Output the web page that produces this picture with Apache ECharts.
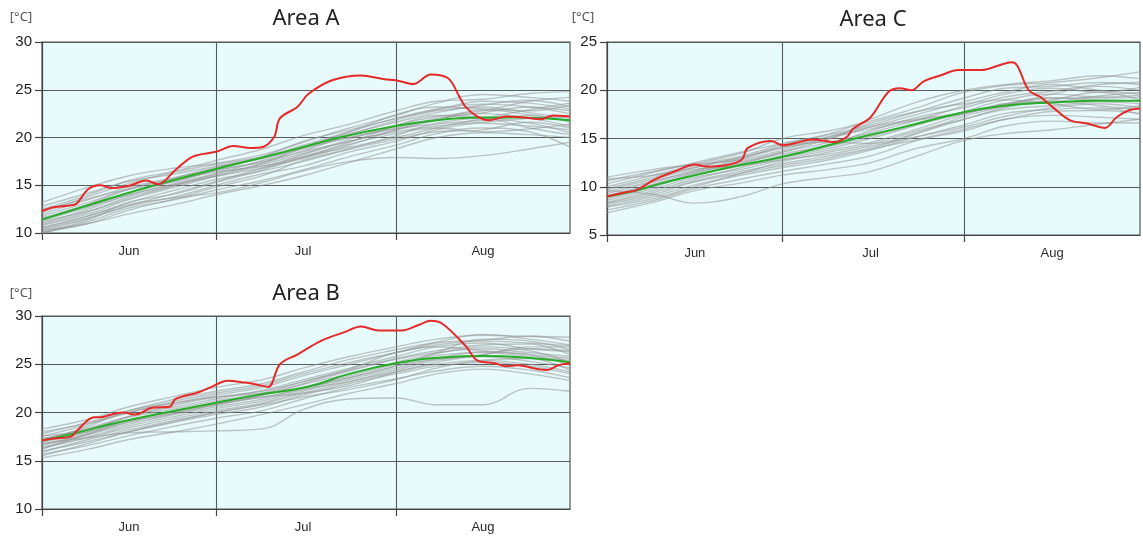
<!DOCTYPE html>
<html>
<head>
<meta charset="utf-8">
<script src="https://cdn.jsdelivr.net/npm/echarts@6/dist/echarts.min.js"></script>
<style>
html,body{margin:0;padding:0;background:#fff;}
#c{width:1143px;height:542px;}
</style>
</head>
<body>
<div id="c"></div>
<script>
// ---------- DATA ----------
const monthNames = ['Jun', 'Jul', 'Aug'];
const monthStartIdx = [0, 30, 61];
const monthLabelIdx = [15, 45, 76];
const monthLengths = [30, 31, 31];
const unitLabel = '[°C]';
const panelTitles = ['Area A', 'Area C', 'Area B'];
const yRanges = [[10, 30], [5, 25], [10, 30]];

// days (index from Jun 1) at which past-year gray lines were read
const grayDays = [0, 8, 15, 23, 30, 38, 45, 53, 61, 68, 76, 84, 91];

// Area A
const grayA = [
  [13.2,14.8,16.0,16.8,17.3,18.2,19.5,21.0,22.3,23.6,24.5,24.2,23.8],
  [12.5,14.0,15.5,16.5,17.6,18.8,20.2,21.4,22.8,23.8,24.0,24.6,24.8],
  [12.0,13.5,14.8,15.8,16.8,18.0,19.6,20.8,22.0,23.0,23.5,23.2,22.5],
  [11.5,12.8,14.2,15.4,16.5,17.5,18.6,20.3,21.8,22.8,23.2,22.6,22.0],
  [11.0,12.5,14.0,15.2,16.2,17.2,18.3,19.8,21.3,22.2,22.8,23.8,24.2],
  [10.8,12.0,13.5,14.8,15.9,16.8,17.8,19.2,20.8,21.9,22.5,22.0,21.2],
  [10.5,11.8,13.2,14.5,15.6,16.5,17.5,18.8,20.2,21.5,22.0,21.5,20.5],
  [10.2,11.5,12.8,13.8,15.0,16.2,17.0,18.5,19.6,20.8,21.5,21.2,20.8],
  [10.0,11.2,12.6,13.5,14.5,15.5,16.6,18.0,19.2,20.4,21.0,20.6,19.0],
  [10.3,11.0,12.0,13.0,14.0,15.0,16.0,17.4,18.8,20.0,20.5,20.3,20.0],
  [10.6,11.8,13.0,13.7,14.2,15.3,16.5,17.5,17.9,17.8,18.1,18.8,19.5],
  [11.8,13.2,14.6,15.6,16.4,17.0,17.9,19.5,21.2,22.3,22.1,21.0,20.3],
  [12.8,14.2,15.4,16.2,17.0,17.9,19.0,20.6,22.4,23.2,23.0,22.8,23.4],
  [11.2,12.3,13.6,15.0,16.0,17.3,18.9,20.0,20.9,21.4,21.8,22.3,21.6],
  [10.0,11.4,13.2,14.1,15.3,16.6,18.0,19.3,20.4,21.0,20.6,20.9,21.4],
  [12.2,13.8,15.2,16.4,17.2,18.0,19.2,20.6,22.0,22.9,23.8,23.6,23.0],
  [11.6,13.0,14.6,15.8,16.9,17.8,19.0,20.4,21.6,22.6,23.4,23.9,23.2],
  [10.9,12.2,13.8,15.0,16.2,17.6,18.8,20.0,21.0,22.0,22.6,23.2,22.8],
  [10.4,11.6,12.9,14.2,15.4,16.8,18.2,19.6,20.6,21.2,21.6,22.0,22.2],
  [12.4,13.6,14.6,15.4,16.6,17.4,18.5,19.6,20.8,21.8,22.9,22.4,21.8],
  [11.3,12.7,14.0,15.1,16.0,17.0,18.0,19.0,20.0,21.0,22.0,22.9,23.6],
  [10.1,11.0,12.4,13.6,14.8,16.0,17.6,18.8,19.8,20.6,20.8,21.6,21.0]
];
const normDaysA = [0, 10, 20, 30, 38, 45, 52, 61, 68, 75, 82, 91];
const normA = [11.4, 13.3, 15.1, 16.7, 17.9, 19.0, 20.1, 21.2, 21.8, 22.1, 22.1, 21.8];
const obsDaysA = [0,2,5,6,8,10,12,15,18,20,23,26,30,33,36,38,40,41,44,46,50,55,59,61,64,67,70,72,73,75,77,80,83,86,88,91];
const obsA = [12.3,12.7,12.9,13.1,14.6,15.0,14.7,14.95,15.5,15.1,16.6,18.0,18.5,19.1,18.9,19.0,20.05,22.0,23.2,24.6,26.0,26.5,26.1,26.0,25.6,26.6,26.2,24.2,23.2,22.2,21.8,22.2,22.1,21.9,22.3,22.2];

// Area C
const grayC = [
  [11.0,11.8,12.4,13.5,15.0,15.8,16.8,18.2,19.8,20.5,20.8,21.3,21.9],
  [10.3,11.5,12.5,13.6,14.5,15.5,17.0,18.8,20.0,20.6,21.0,21.5,21.2],
  [9.8,11.0,12.0,13.0,14.0,15.0,16.2,17.5,18.8,19.8,20.6,20.0,19.6],
  [9.3,10.5,11.7,12.6,13.6,14.6,15.6,16.9,18.4,19.6,20.2,19.8,20.3],
  [9.0,10.2,11.2,12.2,13.2,14.2,15.2,16.5,17.8,19.0,19.6,19.3,19.5],
  [8.6,9.8,11.0,11.8,12.8,13.8,14.6,16.0,17.5,18.6,18.8,19.4,19.8],
  [8.3,9.4,10.6,11.6,12.4,13.2,14.0,15.5,17.0,18.0,18.4,18.8,18.6],
  [8.0,9.0,10.2,11.2,12.0,12.8,13.8,15.2,16.4,17.6,18.0,18.2,17.5],
  [7.6,8.6,9.8,10.8,11.6,12.4,13.2,14.8,15.8,17.0,17.4,17.2,17.0],
  [7.3,8.4,9.6,10.4,11.2,11.8,12.5,14.0,15.0,16.3,16.8,16.6,16.6],
  [9.6,9.2,8.3,9.0,10.3,11.0,11.6,13.2,14.8,15.5,15.9,16.5,17.0],
  [10.6,11.6,12.3,12.8,13.8,15.2,16.2,17.0,17.7,18.5,19.6,20.4,20.0],
  [8.8,10.0,11.4,12.4,13.6,15.0,16.6,17.8,18.6,19.0,18.6,18.0,18.4],
  [9.5,10.6,11.6,12.9,14.2,14.6,14.5,15.6,17.3,18.3,19.0,19.8,19.0],
  [10.0,11.2,12.2,13.2,14.4,15.4,16.4,17.8,19.2,20.2,20.4,20.8,20.6],
  [9.1,10.3,11.5,12.5,13.4,14.4,15.8,17.2,18.2,19.3,19.9,20.6,20.8],
  [8.4,9.6,10.8,12.0,13.0,14.0,15.0,16.4,17.6,18.4,19.2,19.0,18.9],
  [7.9,8.8,10.0,11.4,12.6,13.6,14.4,15.8,17.0,18.2,18.9,18.4,18.0],
  [9.7,10.8,11.8,12.2,12.8,13.4,14.2,15.2,16.2,17.3,18.2,18.6,18.2],
  [8.2,9.2,10.5,11.4,12.2,13.0,13.9,14.9,16.0,17.0,17.8,17.9,17.6],
  [10.8,11.2,12.0,13.1,14.1,15.2,16.0,16.9,17.6,18.6,19.2,19.2,19.3]
];
const normDaysC = [0, 5, 9, 20, 30, 41, 50, 60, 67, 75, 84, 91];
const normC = [9.0, 9.6, 10.3, 11.9, 13.1, 14.8, 16.1, 17.6, 18.35, 18.7, 18.9, 18.9];
const obsDaysC = [0,3,5,8,12,15,17,20,23,24,28,30,32,35,39,41,42,45,48,50,52,54,57,60,64,67,69,70,72,74,76,79,82,85,87,89,91];
const obsC = [9.0,9.4,9.65,10.7,11.7,12.3,12.1,12.2,12.8,14.0,14.75,14.3,14.5,14.9,14.65,15.2,16.0,17.2,19.8,20.2,20.0,20.9,21.55,22.1,22.1,22.6,22.9,22.6,20.0,19.3,18.3,16.9,16.55,16.1,17.2,17.9,18.1];

// Area B
const grayB = [
  [18.3,19.3,20.6,21.7,22.6,23.4,24.6,25.8,26.8,27.6,28.0,27.9,27.8],
  [17.8,19.0,20.2,21.4,22.2,23.0,24.2,25.5,26.5,27.3,28.1,27.6,27.0],
  [17.5,18.8,20.0,21.0,21.8,22.6,23.8,25.0,26.2,27.2,27.5,27.9,27.4],
  [17.2,18.4,19.6,20.6,21.4,22.3,23.4,24.6,25.8,26.8,27.2,26.6,26.3],
  [16.9,18.0,19.2,20.2,21.0,21.8,23.0,24.3,25.5,26.2,26.6,26.2,25.8],
  [16.6,17.7,18.8,19.8,20.6,21.4,22.6,23.8,25.0,25.9,26.2,25.8,25.4],
  [16.3,17.4,18.4,19.4,20.2,21.0,22.2,23.4,24.6,25.5,25.8,25.3,24.6],
  [16.0,17.0,18.0,19.0,19.8,20.6,21.8,23.0,24.0,24.8,25.2,24.8,24.0],
  [15.7,16.6,17.6,18.6,19.4,20.2,21.4,22.6,23.5,24.3,24.8,24.4,23.6],
  [15.3,16.2,17.2,18.0,18.8,19.8,20.8,22.0,23.0,24.0,24.5,24.0,23.3],
  [16.8,17.4,17.9,18.0,18.1,18.3,20.3,21.4,21.5,20.8,20.8,22.5,22.2],
  [17.0,18.6,20.2,21.0,21.6,22.0,22.6,23.6,24.8,26.2,27.6,27.4,26.5],
  [16.2,17.8,19.0,19.9,20.8,21.6,22.0,22.8,24.2,25.2,26.0,26.8,26.8],
  [17.6,18.2,19.6,20.8,21.6,22.2,23.2,24.5,26.2,26.8,26.4,26.0,25.6],
  [18.0,18.9,20.0,21.2,22.0,22.8,24.0,25.2,26.2,27.0,27.4,27.2,26.9],
  [17.3,18.3,19.5,20.4,21.2,22.0,23.2,24.4,25.6,26.4,27.0,27.1,26.0],
  [16.7,17.8,19.0,20.0,20.8,21.8,22.9,24.0,25.2,26.1,26.8,26.4,25.2],
  [16.4,17.5,18.6,19.6,20.4,21.2,22.4,23.6,24.8,25.6,26.3,26.0,24.9],
  [15.9,17.2,18.2,19.2,20.0,20.8,21.6,22.4,23.4,24.6,25.4,25.6,24.4],
  [17.1,18.0,19.2,20.1,20.9,21.6,22.4,23.2,24.2,25.0,25.4,25.0,24.2],
  [15.5,16.8,18.0,19.1,20.0,20.9,22.0,23.2,24.4,25.4,26.0,26.6,26.4]
];
const normDaysB = [0, 5, 14, 30, 37, 46, 53, 61, 69, 76, 83, 91];
const normB = [17.1, 17.75, 19.1, 21.0, 21.8, 22.7, 24.0, 25.1, 25.7, 25.85, 25.7, 25.2];
const obsDaysB = [0,2,5,6,9,10,12,14,16,19,22,23,27,29,32,35,37,39,41,44,48,52,55,58,62,65,67,69,73,75,78,80,82,85,87,89,91];
const obsB = [17.1,17.3,17.5,18.1,19.5,19.5,19.8,20.0,19.8,20.5,20.6,21.4,22.1,22.6,23.3,23.1,22.9,22.65,25.0,26.0,27.4,28.3,28.9,28.5,28.5,29.1,29.5,29.2,26.9,25.4,25.1,24.8,24.9,24.55,24.4,24.9,25.1];

// ---------- CHART ----------
const categories = [];
monthNames.forEach((m, mi) => { for (let d = 1; d <= monthLengths[mi]; d++) categories.push(m + ' ' + d); });

const pair = (days, vals) => days.map((d, i) => [d, vals[i]]);

const grids = [
  {left: 42, top: 42, width: 528, height: 191},
  {left: 607, top: 42, width: 533, height: 193},
  {left: 42, top: 316, width: 528, height: 193}
];
const panels = [
  {gray: grayA, normD: normDaysA, norm: normA, obsD: obsDaysA, obs: obsA},
  {gray: grayC, normD: normDaysC, norm: normC, obsD: obsDaysC, obs: obsC},
  {gray: grayB, normD: normDaysB, norm: normB, obsD: obsDaysB, obs: obsB}
];

const gridLineColor = '#555a5b';
const xAxes = [], yAxes = [], series = [], graphics = [];
grids.forEach((g, i) => {
  xAxes.push({
    type: 'category', gridIndex: i, data: categories, boundaryGap: false,
    axisLine: {show: true, lineStyle: {color: '#444', width: 1.2}},
    axisTick: {show: true, length: 7, interval: (idx) => monthStartIdx.includes(idx), lineStyle: {color: '#444', width: 1.2}},
    axisLabel: {show: true, interval: (idx) => monthLabelIdx.includes(idx),
      formatter: (v, idx) => monthNames[monthLabelIdx.indexOf(idx)] || '',
      color: '#2a2a2a', fontSize: 13, fontFamily: 'Liberation Sans, Arial', margin: 12},
    splitLine: {show: true, interval: (idx) => monthStartIdx.includes(idx) && idx > 0, lineStyle: {color: gridLineColor, width: 1.1}}
  });
  yAxes.push({
    type: 'value', gridIndex: i, min: yRanges[i][0], max: yRanges[i][1], interval: 5,
    axisLine: {show: true, lineStyle: {color: '#444', width: 1.2}},
    axisTick: {show: true, length: 7, lineStyle: {color: '#444', width: 1.2}},
    axisLabel: {color: '#1e1e1e', fontSize: 15, fontFamily: 'Liberation Sans, Arial', margin: 10},
    splitLine: {show: true, lineStyle: {color: gridLineColor, width: 1.1}}
  });
  const p = panels[i];
  p.gray.forEach((vals) => {
    series.push({type: 'line', xAxisIndex: i, yAxisIndex: i, data: pair(grayDays, vals),
      smooth: 0.4, symbol: 'none', silent: true,
      lineStyle: {color: 'rgba(150,150,150,0.55)', width: 1.4}});
  });
  series.push({type: 'line', xAxisIndex: i, yAxisIndex: i, data: pair(p.normD, p.norm),
    smooth: 0.5, symbol: 'none', lineStyle: {color: '#27ad27', width: 2}});
  series.push({type: 'line', xAxisIndex: i, yAxisIndex: i, data: pair(p.obsD, p.obs),
    smooth: 0.35, symbol: 'none', lineStyle: {color: '#e52a2a', width: 2}});
});

const titlePos = [[306, 19], [873, 20], [306, 294]];
const unitPos = [[21, 17], [583, 17], [21, 293]];
titlePos.forEach((tp, i) => {
  graphics.push({type: 'text', x: tp[0], y: tp[1], style: {text: panelTitles[i], fill: '#222',
    font: '22px "Noto Sans", sans-serif', textAlign: 'center', textVerticalAlign: 'middle'}});
  graphics.push({type: 'text', x: unitPos[i][0], y: unitPos[i][1], style: {text: unitLabel, fill: '#555',
    font: '13px "Noto Sans", sans-serif', textAlign: 'center', textVerticalAlign: 'middle'}});
});

const chart = echarts.init(document.getElementById('c'), null, {renderer: 'canvas'});
chart.setOption({
  animation: false,
  backgroundColor: '#ffffff',
  grid: grids.map(g => Object.assign({show: true, backgroundColor: '#e7fbfd', borderColor: '#555', borderWidth: 1.2}, g)),
  xAxis: xAxes,
  yAxis: yAxes,
  series: series,
  graphic: graphics
});
</script>
</body>
</html>
